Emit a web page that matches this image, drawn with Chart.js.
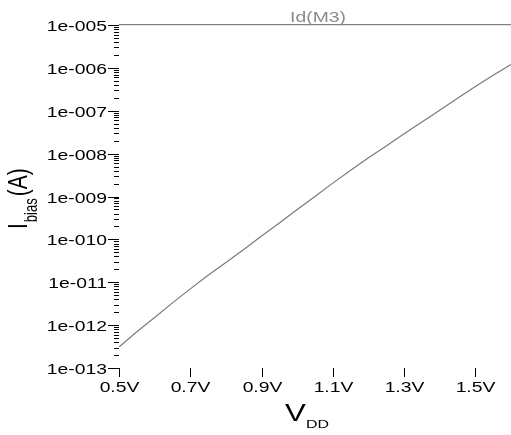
<!DOCTYPE html>
<html>
<head>
<meta charset="utf-8">
<script src="https://cdn.jsdelivr.net/npm/chart.js@4/dist/chart.umd.min.js"></script>
<style>
  html, body { margin: 0; padding: 0; background: #fff; }
  canvas { display: block; }
</style>
</head>
<body>
<canvas id="biasChart" width="511" height="435"></canvas>
<script>
// V_DD sweep (V) and drain current of M3 (A)
const vdd = [0.50, 0.55, 0.60, 0.65, 0.70, 0.75, 0.80, 0.85, 0.90, 0.95, 1.00, 1.05,
             1.10, 1.15, 1.20, 1.25, 1.30, 1.35, 1.40, 1.45, 1.50, 1.55, 1.60];
const idM3 = [3.1e-13, 7.0e-13, 1.5e-12, 3.3e-12, 7.0e-12, 1.45e-11, 2.9e-11, 5.8e-11,
              1.2e-10, 2.4e-10, 5.0e-10, 1.0e-9, 2.05e-9, 4.1e-9, 8.0e-9, 1.5e-8,
              2.9e-8, 5.5e-8, 1.03e-7, 1.95e-7, 3.7e-7, 6.7e-7, 1.2e-6];

const xTicks = [0.5, 0.7, 0.9, 1.1, 1.3, 1.5];
const xTickLabels = ['0.5V', '0.7V', '0.9V', '1.1V', '1.3V', '1.5V'];
const yTicks = [1e-13, 1e-12, 1e-11, 1e-10, 1e-9, 1e-8, 1e-7, 1e-6, 1e-5];
const yTickLabels = ['1e-013', '1e-012', '1e-011', '1e-010', '1e-009',
                     '1e-008', '1e-007', '1e-006', '1e-005'];
const minorSteps = [2, 3, 4, 5, 6, 7, 8, 9];
const seriesName = 'Id(M3)';

const FONT = "'Liberation Sans', Arial, sans-serif";
const STRETCH = 1.38;   // the original text is drawn wide

function wideText(ctx, text, x, y, size, align, sx) {
  ctx.save();
  ctx.translate(x, y);
  ctx.scale(sx, 1);
  ctx.font = size + 'px ' + FONT;
  ctx.textAlign = align;
  ctx.textBaseline = 'alphabetic';
  ctx.fillText(text, 0, 0);
  ctx.restore();
}

function seg(ctx, x1, y1, x2, y2) {
  ctx.beginPath();
  ctx.moveTo(x1, y1);
  ctx.lineTo(x2, y2);
  ctx.stroke();
}

const axisDecor = {
  id: 'axisDecor',
  afterDraw(chart) {
    const { ctx, chartArea: a, scales: { x, y } } = chart;
    ctx.save();
    ctx.strokeStyle = '#000';
    ctx.fillStyle = '#000';
    ctx.lineWidth = 1;

    // y axis: major ticks + labels, minor ticks per decade
    yTicks.forEach((v, i) => {
      const py = Math.round(y.getPixelForValue(v)) + 0.5;
      seg(ctx, a.left - 11, py, a.left, py);
      wideText(ctx, yTickLabels[i], a.left - 12, py + 5.5, 14, 'right', STRETCH);
      if (i < yTicks.length - 1) {
        minorSteps.forEach(m => {
          const my = Math.round(y.getPixelForValue(v * m)) + 0.5;
          seg(ctx, a.left - 5, my, a.left, my);
        });
      }
    });

    // x axis ticks + labels
    xTicks.forEach((v, i) => {
      const px = Math.round(x.getPixelForValue(v)) + 0.5;
      seg(ctx, px, a.bottom, px, a.bottom + 9);
      wideText(ctx, xTickLabels[i], px, a.bottom + 24, 14, 'center', STRETCH);
    });

    // x title: V with subscript DD
    wideText(ctx, 'V', 285, 421, 24, 'left', 1.3);
    wideText(ctx, 'DD', 306, 428, 11, 'left', 1.45);

    // y title: I with subscript bias, then (A), rotated
    ctx.save();
    ctx.translate(27, 229);
    ctx.rotate(-Math.PI / 2);
    ctx.scale(1, 1.35);
    ctx.textAlign = 'left';
    ctx.textBaseline = 'alphabetic';
    ctx.font = '21px ' + FONT;
    ctx.fillText('I', 0, 0);
    let w = ctx.measureText('I').width;
    ctx.font = '13px ' + FONT;
    ctx.fillText('bias', w + 1, 7.4);
    w += 1 + ctx.measureText('bias').width + 2;
    ctx.font = '21px ' + FONT;
    ctx.fillText('(A)', w, 0);
    ctx.restore();

    // series name on top
    ctx.fillStyle = '#8a8a8a';
    wideText(ctx, seriesName, (a.left + a.right) / 2 + 3, 22, 14, 'center', STRETCH);
    ctx.restore();
  }
};

new Chart(document.getElementById('biasChart'), {
  type: 'line',
  data: {
    labels: vdd,
    datasets: [{
      label: seriesName,
      data: vdd.map((v, i) => ({ x: v, y: idM3[i] })),
      borderColor: '#7a7a7a',
      borderWidth: 1.2,
      pointRadius: 0,
      tension: 0,
      fill: false
    }]
  },
  options: {
    responsive: false,
    animation: false,
    devicePixelRatio: 1,
    layout: { autoPadding: false, padding: { left: 119, top: 25, right: 0, bottom: 67 } },
    plugins: { legend: { display: false }, tooltip: { enabled: false }, title: { display: false } },
    scales: {
      x: {
        type: 'linear',
        display: false,
        min: 0.5,
        max: 1.6
      },
      y: {
        type: 'logarithmic',
        min: 1e-13,
        max: 1e-5,
        afterBuildTicks: scale => { scale.ticks = yTicks.map(v => ({ value: v })); },
        ticks: { display: false },
        grid: {
          drawTicks: false,
          color: c => (c.tick && c.tick.value === 1e-5 ? '#808080' : 'rgba(0,0,0,0)'),
          lineWidth: 1.2
        },
        border: { display: false }
      }
    }
  },
  plugins: [axisDecor]
});
</script>
</body>
</html>
